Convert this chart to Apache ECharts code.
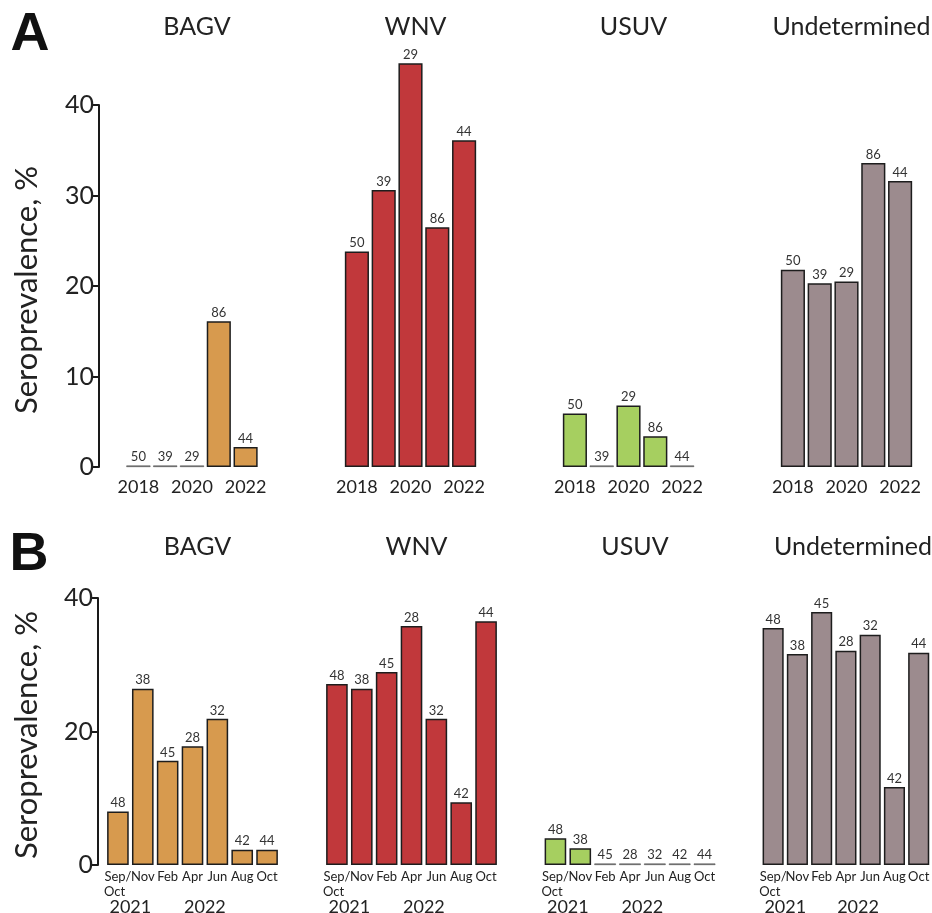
<!DOCTYPE html>
<html>
<head>
<meta charset="utf-8">
<script src="https://cdn.jsdelivr.net/npm/echarts@6/dist/echarts.min.js"></script>
<style>
html,body{margin:0;padding:0;background:#fff;}
#chart{width:932px;height:913px;}
</style>
</head>
<body>
<div id="chart"></div>
<script>
// ---- Data ----
const virusNames = ['BAGV', 'WNV', 'USUV', 'Undetermined'];
const virusColors = ['#D79A4E', '#C1383B', '#A6CF60', '#9C8B8E'];

// Panel A: yearly
const catsA = ['2018', '2019', '2020', '2021', '2022'];
const nA = [50, 39, 29, 86, 44];
const bagvA = [0, 0, 0, 16.1, 2.2];
const wnvA = [23.8, 30.6, 44.6, 26.5, 36.1];
const usuvA = [5.9, 0, 6.8, 3.4, 0];
const undA = [21.8, 20.3, 20.5, 33.6, 31.6];

// Panel B: sampling months 2021-2022
const catsB = ['Sep/\nOct', 'Nov', 'Feb', 'Apr', 'Jun', 'Aug', 'Oct'];
const nB = [48, 38, 45, 28, 32, 42, 44];
const bagvB = [8.0, 26.4, 15.6, 17.8, 21.9, 2.3, 2.3];
const wnvB = [27.1, 26.4, 28.9, 35.8, 21.9, 9.4, 36.5];
const usuvB = [4.0, 2.5, 0, 0, 0, 0, 0];
const undB = [35.5, 31.6, 37.9, 32.1, 34.5, 11.7, 31.8];
const yearsB = ['2021', '2022'];
const yearPosB = [0.5, 3.5];

const seriesA = [bagvA, wnvA, usuvA, undA];
const seriesB = [bagvB, wnvB, usuvB, undB];

// ---- Layout ----
const FONT = 'Lato, "Open Sans", sans-serif';
const rowA = { top: 105, height: 362, lefts: [125, 343.5, 561.5, 779.5], width: 134, yOffset: 26, max: 40, interval: 10 };
const rowB = { top: 598, height: 267, lefts: [105.5, 324.5, 543, 761], width: 174, yOffset: 7.5, max: 40, interval: 20 };

const chart = echarts.init(document.getElementById('chart'), null, { renderer: 'canvas' });

const grids = [], xAxes = [], yAxes = [], series = [], titles = [];

function addRow(row, cats, nArr, dataArr, rowIdx) {
  for (let i = 0; i < 4; i++) {
    const gi = grids.length;
    grids.push({ left: row.lefts[i], top: row.top, width: row.width, height: row.height, containLabel: false });
    const isB = rowIdx === 1;
    xAxes.push({
      type: 'category', gridIndex: gi, data: cats,
      axisLine: { show: false }, axisTick: { show: false },
      axisLabel: isB ? {
        interval: 0, fontFamily: FONT, fontSize: 13, color: '#222', margin: 4, lineHeight: 15,
        formatter: v => v === 'Sep/\nOct' ? 'Sep/\nOct  ' : v
      } : {
        interval: 1, fontFamily: FONT, fontSize: 18, color: '#222', margin: 11
      }
    });
    yAxes.push({
      type: 'value', gridIndex: gi, min: 0, max: row.max, interval: row.interval,
      show: i === 0, offset: row.yOffset,
      splitLine: { show: false },
      axisLine: { show: true, lineStyle: { color: '#1a1a1a', width: 2 } },
      axisTick: { show: true, length: 7, lineStyle: { color: '#1a1a1a', width: 2 } },
      axisLabel: { fontFamily: FONT, fontSize: 25, color: '#222', margin: 5 }
    });
    series.push({
      type: 'bar', xAxisIndex: gi, yAxisIndex: gi,
      data: dataArr[i].map(v => v === 0 ? { value: 0, itemStyle: { color: '#666', borderColor: '#555', borderWidth: 0.6 } } : v),
      barCategoryGap: isB ? '13%' : '10%',
      barMinHeight: 1.5,
      clip: false,
      itemStyle: { color: virusColors[i], borderColor: '#1d1d1d', borderWidth: 1.5 },
      label: {
        show: true, position: 'top', distance: 2,
        fontFamily: FONT, fontSize: 13, color: '#333',
        formatter: p => String(nArr[p.dataIndex])
      },
      emphasis: { disabled: true },
      animation: false
    });
    titles.push({
      text: virusNames[i],
      left: row.lefts[i] + row.width / 2,
      top: rowIdx === 0 ? 9 : 529,
      textAlign: 'center',
      textStyle: { fontFamily: FONT, fontSize: 25, fontWeight: 'normal', color: '#222' }
    });
  }
}

addRow(rowA, catsA, nA, seriesA, 0);
addRow(rowB, catsB, nB, seriesB, 1);

const graphics = [
  { type: 'text', x: 30, y: 35, style: { text: 'A', font: 'bold 54px "Liberation Sans", Arial, sans-serif', fill: '#111', align: 'center', verticalAlign: 'middle' } },
  { type: 'text', x: 29, y: 555, style: { text: 'B', font: 'bold 54px "Liberation Sans", Arial, sans-serif', fill: '#111', align: 'center', verticalAlign: 'middle' } },
  { type: 'text', x: 27, y: 290, rotation: Math.PI / 2, style: { text: 'Seroprevalence, %', font: '31px ' + FONT, fill: '#222', align: 'center', verticalAlign: 'middle' } },
  { type: 'text', x: 27, y: 735, rotation: Math.PI / 2, style: { text: 'Seroprevalence, %', font: '31px ' + FONT, fill: '#222', align: 'center', verticalAlign: 'middle' } }
];

chart.setOption({
  backgroundColor: '#fff',
  animation: false,
  title: titles,
  grid: grids,
  xAxis: xAxes,
  yAxis: yAxes,
  series: series,
  graphic: graphics
});

// Year labels under panel B, positioned through the axis scale
const yearGraphics = [];
for (let i = 0; i < 4; i++) {
  const axisIdx = 4 + i;
  yearsB.forEach((yr, k) => {
    const p = yearPosB[k];
    const lo = Math.floor(p), hi = Math.ceil(p);
    const x = (chart.convertToPixel({ xAxisIndex: axisIdx }, lo) + chart.convertToPixel({ xAxisIndex: axisIdx }, hi)) / 2;
    yearGraphics.push({ type: 'text', x: x, y: 907, style: { text: yr, font: '18px ' + FONT, fill: '#222', align: 'center', verticalAlign: 'middle' } });
  });
}
chart.setOption({ graphic: graphics.concat(yearGraphics) });
</script>
</body>
</html>
